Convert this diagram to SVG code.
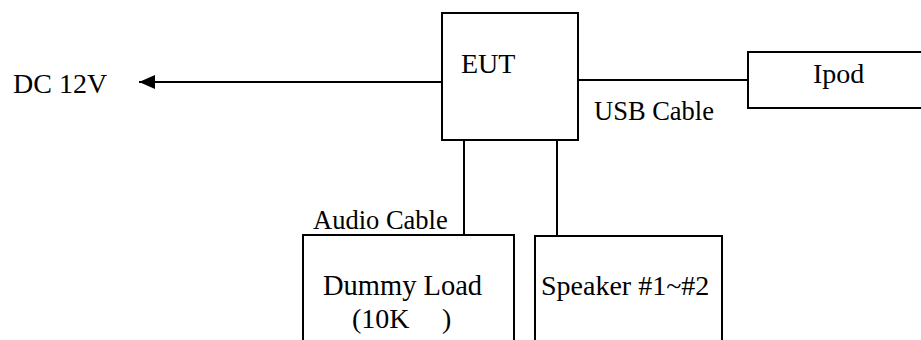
<svg xmlns="http://www.w3.org/2000/svg" width="921" height="340" viewBox="0 0 921 340">
<style>
.b{fill:#fff;stroke:#000;stroke-width:2}
.l{fill:none;stroke:#000;stroke-width:2}
text{font-family:"Liberation Serif","Times New Roman",serif;fill:#000;font-size:28px}
.s{font-size:26.5px}
</style>
<defs>
<marker id="ah" markerWidth="16" markerHeight="14" refX="16" refY="7" orient="auto" markerUnits="userSpaceOnUse">
<path d="M0,0 L16,7 L0,14 Z" fill="#000"/>
</marker>
</defs>
<rect width="921" height="340" fill="#fff"/>
<g id="connectors">
<line class="l" x1="442" y1="82" x2="139" y2="82" marker-end="url(#ah)"/>
<line class="l" x1="578" y1="80" x2="748" y2="80"/>
<line class="l" x1="464" y1="140" x2="464" y2="235"/>
<line class="l" x1="557" y1="140" x2="557" y2="236"/>
<text class="s" x="594" y="120">USB Cable</text>
<text class="s" x="313" y="229">Audio Cable</text>
</g>
<g id="dc">
<text x="13" y="93">DC 12V</text>
</g>
<g id="eut">
<rect class="b" x="442" y="13" width="136" height="127"/>
<text x="461" y="73">EUT</text>
</g>
<g id="ipod">
<rect class="b" x="748" y="52" width="190" height="56"/>
<text x="813" y="83">Ipod</text>
</g>
<g id="dummy">
<rect class="b" x="303" y="235" width="211" height="120"/>
<text x="323" y="295" style="font-size:28.5px">Dummy Load</text>
<text x="352" y="328">(10K</text>
<text x="442" y="328">)</text>
</g>
<g id="speaker">
<rect class="b" x="535" y="236" width="187" height="120"/>
<text x="541" y="295">Speaker #1~#2</text>
</g>
</svg>
